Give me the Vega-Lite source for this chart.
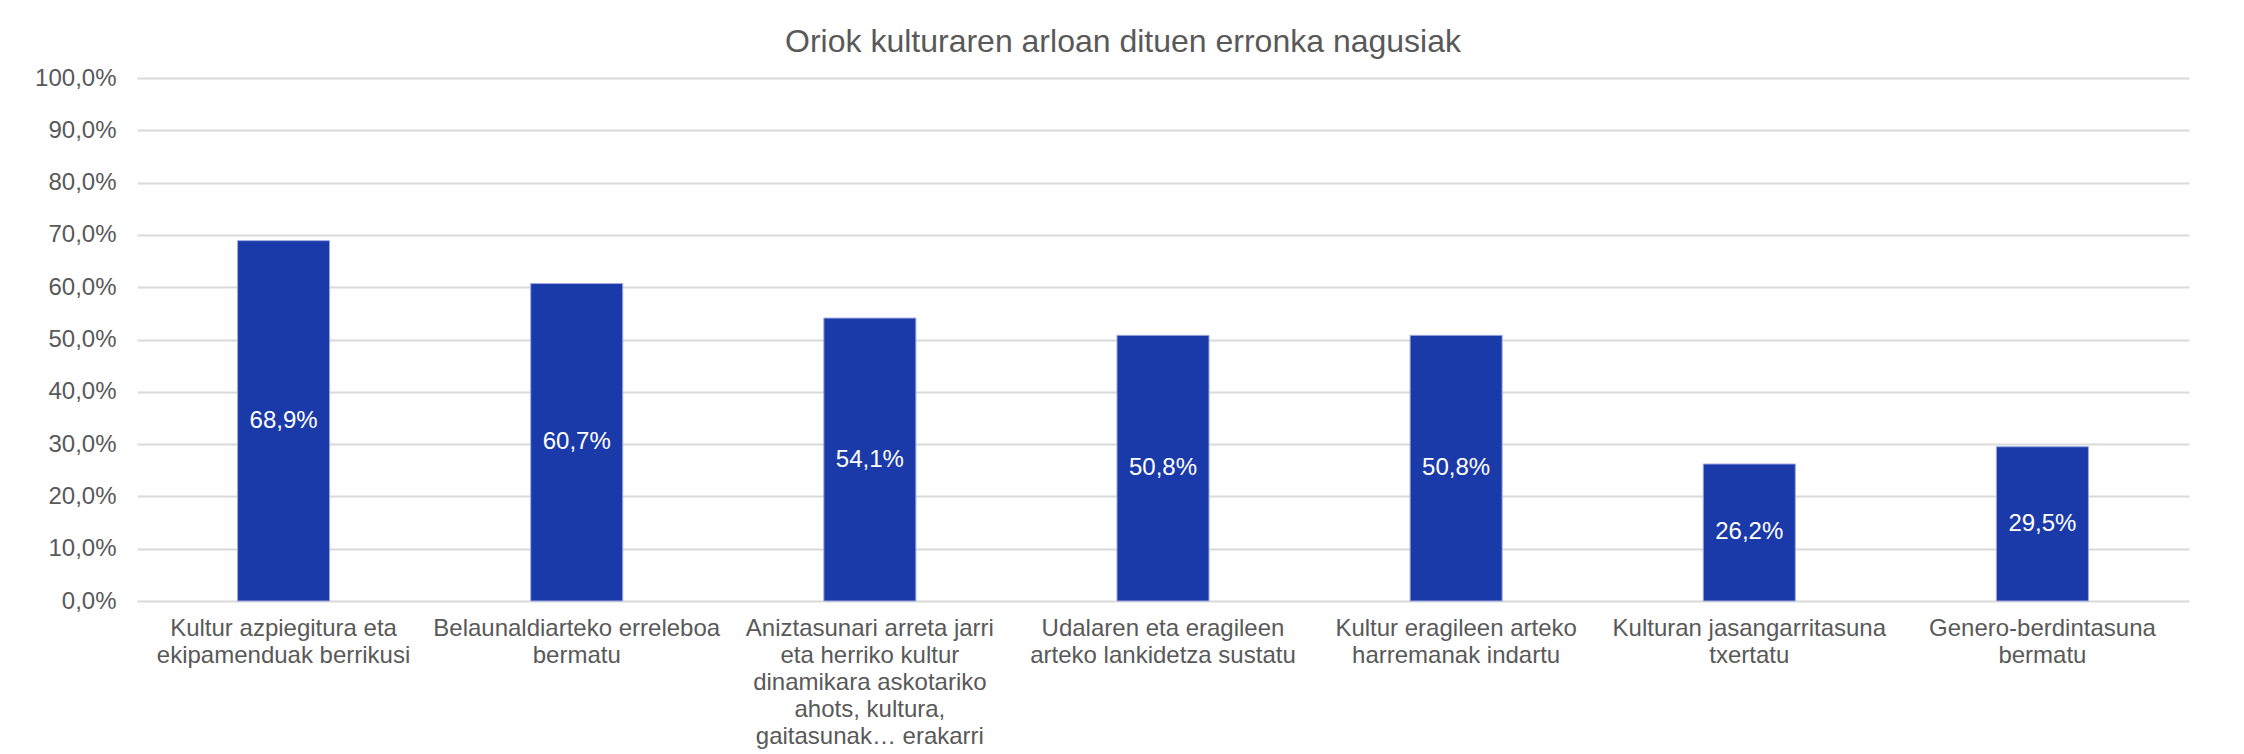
{
  "$schema": "https://vega.github.io/schema/vega-lite/v6.json",
  "width": 2052,
  "height": 523,
  "autosize": {"type": "none"},
  "padding": {"left": 137, "top": 78, "right": 55, "bottom": 153},
  "background": "white",
  "title": {
    "text": "Oriok kulturaren arloan dituen erronka nagusiak",
    "fontSize": 32,
    "font": "Liberation Sans",
    "fontWeight": "normal",
    "color": "#595959",
    "anchor": "middle",
    "frame": "group",
    "dx": -40,
    "baseline": "alphabetic",
    "offset": -18
  },
  "config": {
    "locale": {"number": {"decimal": ",", "thousands": ".", "grouping": [3], "currency": ["", " €"]}},
    "view": {"stroke": null},
    "font": "Liberation Sans"
  },
  "data": {
    "values": [
      {"erronka": "Kultur azpiegitura eta|ekipamenduak berrikusi", "ehunekoa": 0.689},
      {"erronka": "Belaunaldiarteko erreleboa|bermatu", "ehunekoa": 0.607},
      {"erronka": "Aniztasunari arreta jarri|eta herriko kultur|dinamikara askotariko|ahots, kultura,|gaitasunak… erakarri", "ehunekoa": 0.541},
      {"erronka": "Udalaren eta eragileen|arteko lankidetza sustatu", "ehunekoa": 0.508},
      {"erronka": "Kultur eragileen arteko|harremanak indartu", "ehunekoa": 0.508},
      {"erronka": "Kulturan jasangarritasuna|txertatu", "ehunekoa": 0.262},
      {"erronka": "Genero-berdintasuna|bermatu", "ehunekoa": 0.295}
    ]
  },
  "encoding": {
    "x": {
      "field": "erronka",
      "type": "nominal",
      "sort": null,
      "scale": {"paddingInner": 0.686, "paddingOuter": 0.343},
      "axis": {
        "title": null,
        "labelExpr": "split(datum.label, '|')",
        "labelAngle": 0,
        "labelFontSize": 24,
        "labelColor": "#595959",
        "labelLineHeight": 27,
        "labelPadding": 15,
        "labelLimit": 0,
        "ticks": false,
        "tickSize": 0,
        "domain": false,
        "grid": false
      }
    }
  },
  "layer": [
    {
      "mark": {"type": "bar", "color": "#1b3aaa", "stroke": "#9fabe0", "strokeWidth": 1},
      "encoding": {
        "y": {
          "field": "ehunekoa",
          "type": "quantitative",
          "scale": {"domain": [0, 1], "nice": false},
          "axis": {
            "title": null,
            "values": [0, 0.1, 0.2, 0.3, 0.4, 0.5, 0.6, 0.7, 0.8, 0.9, 1],
            "format": ".1%",
            "labelFontSize": 24,
            "labelColor": "#595959",
            "labelPadding": 21,
            "ticks": false,
            "tickSize": 0,
            "domain": false,
            "grid": true,
            "gridColor": "#d9d9d9",
            "gridWidth": 2
          }
        }
      }
    },
    {
      "mark": {"type": "text", "color": "white", "fontSize": 24, "align": "center", "baseline": "middle"},
      "encoding": {
        "y": {
          "field": "ehunekoa",
          "type": "quantitative",
          "scale": {"domain": [0, 2], "nice": false},
          "axis": null
        },
        "text": {"field": "ehunekoa", "type": "quantitative", "format": ".1%"}
      }
    }
  ],
  "resolve": {"scale": {"y": "independent"}, "axis": {"y": "independent"}}
}
